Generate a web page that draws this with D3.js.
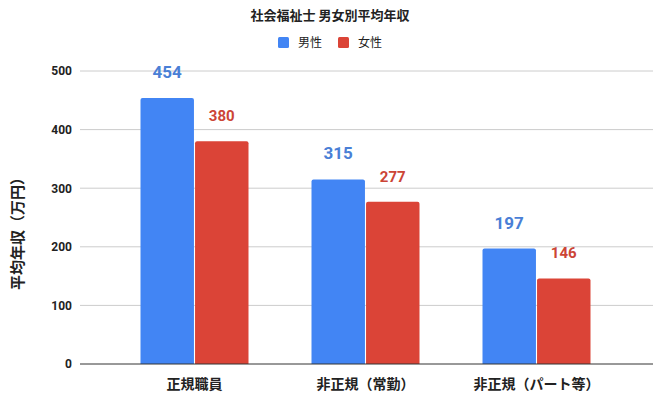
<!DOCTYPE html>
<html><head><meta charset="utf-8">
<script src="https://cdn.jsdelivr.net/npm/d3@7"></script>
<style>body{margin:0;background:#fff}svg{display:block}text{font-family:Roboto,"Noto Sans CJK JP",sans-serif}</style>
</head><body><svg id="c" width="661" height="404"></svg>
<script>
const categories = ["正規職員", "非正規（常勤）", "非正規（パート等）"];
const seriesNames = ["男性", "女性"];
const male = [454, 315, 197];
const female = [380, 277, 146];
const yTicks = [0, 100, 200, 300, 400, 500];
const colors = ["#4285f4", "#db4437"];
const labelColors = ["#4a7fd6", "#cc4536"];

const svg = d3.select("#c");
const plotL = 80, plotR = 653, y0 = 364, yTop = 71;
const y = d3.scaleLinear().domain([0, 500]).range([y0, yTop]);
const x = d3.scaleBand().domain(categories).range([109, 622]).paddingInner(0).paddingOuter(0);
const groupW = 108;
const xs = d3.scaleBand().domain(seriesNames).range([0, groupW]).paddingInner(0.02);

// gridlines
svg.append("g").selectAll("line").data(yTicks.filter(d => d > 0)).join("line")
  .attr("x1", plotL).attr("x2", plotR).attr("y1", d => y(d)).attr("y2", d => y(d))
  .attr("stroke", "#cccccc").attr("stroke-width", 1);

// y axis labels
const yAxis = d3.axisLeft(y).tickValues(yTicks).tickSize(0).tickPadding(0);
const ya = svg.append("g").attr("transform", `translate(72,0)`).call(yAxis);
ya.select(".domain").remove();
ya.selectAll("text").attr("font-size", 12).attr("font-weight", "bold").attr("fill", "#222")
  .attr("font-family", 'Roboto,"Noto Sans CJK JP",sans-serif');

const data = categories.map((c, i) => ({ c, vals: [male[i], female[i]] }));
const g = svg.append("g").selectAll("g").data(data).join("g")
  .attr("transform", d => `translate(${x(d.c) + (x.bandwidth() - groupW) / 2},0)`);

g.selectAll("path").data(d => d.vals.map((v, k) => ({ v, k }))).join("path")
  .attr("d", d => {
    const bx = xs(seriesNames[d.k]), bw = xs.bandwidth(), by = y(d.v), r = 2;
    return `M${bx},${y0}V${by + r}Q${bx},${by} ${bx + r},${by}H${bx + bw - r}Q${bx + bw},${by} ${bx + bw},${by + r}V${y0}Z`;
  })
  .attr("fill", d => colors[d.k]);

g.selectAll("text").data(d => d.vals.map((v, k) => ({ v, k }))).join("text")
  .attr("x", d => xs(seriesNames[d.k]) + xs.bandwidth() / 2)
  .attr("y", d => y(d.v) - 20)
  .attr("text-anchor", "middle").attr("font-size", d => d.k === 0 ? 17 : 15).attr("font-weight", "bold")
  .attr("fill", d => labelColors[d.k]).text(d => d.v);

// baseline
svg.append("line").attr("x1", plotL).attr("x2", plotR).attr("y1", y0).attr("y2", y0)
  .attr("stroke", "#333").attr("stroke-width", 1);

// x labels
const xAxis = d3.axisBottom(x).tickSize(0).tickPadding(0);
const xa = svg.append("g").attr("transform", `translate(0,${y0 + 25})`).call(xAxis);
xa.select(".domain").remove();
xa.selectAll("text").attr("font-size", 14).attr("font-weight", "bold").attr("fill", "#222").attr("dy", 0)
  .attr("font-family", 'Roboto,"Noto Sans CJK JP",sans-serif');

// title
svg.append("text").attr("x", 330).attr("y", 20).attr("text-anchor", "middle")
  .attr("font-size", 13).attr("font-weight", "bold").attr("fill", "#222").text("社会福祉士 男女別平均年収");

// legend
const lx = [278, 338];
seriesNames.forEach((s, i) => {
  svg.append("rect").attr("x", lx[i]).attr("y", 37).attr("width", 11).attr("height", 11).attr("rx", 1.5).attr("fill", colors[i]);
  svg.append("text").attr("x", lx[i] + 20).attr("y", 47).attr("font-size", 12).attr("fill", "#222").text(s);
});

// y title
svg.append("text").attr("transform", "translate(23,230) rotate(-90)").attr("text-anchor", "middle")
  .attr("font-size", 15).attr("font-weight", "bold").attr("fill", "#222").text("平均年収（万円）");
</script></body></html>
